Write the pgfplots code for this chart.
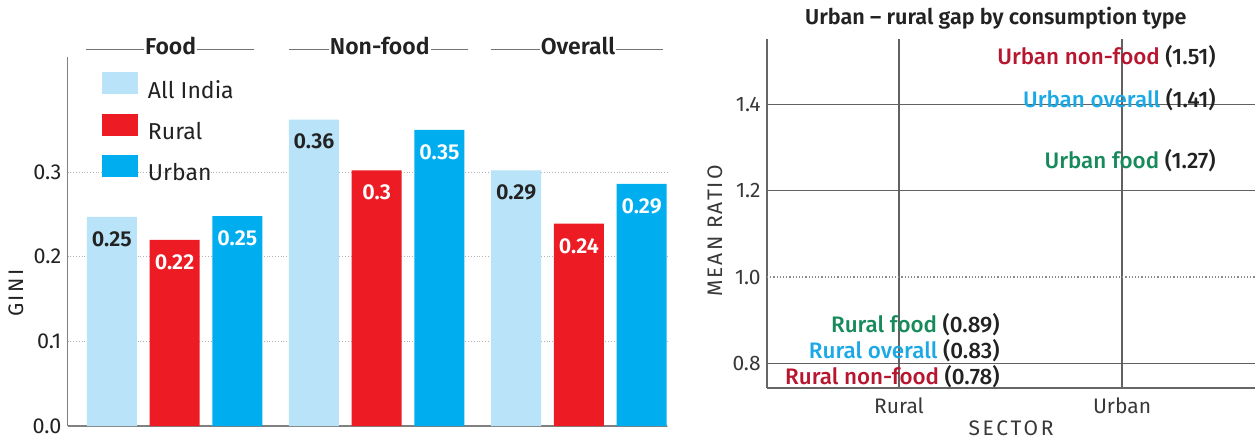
\documentclass[border=0pt]{standalone}
\usepackage{fontspec}
\setmainfont{Fira Sans}
\IfFontExistsTF{Fira Sans SemiBold}{\newfontfamily\semib{Fira Sans SemiBold}}{\newcommand\semib{\bfseries}}
\IfFontExistsTF{Fira Sans Medium}{\newfontfamily\medf{Fira Sans Medium}}{\newcommand\medf{\bfseries}}
\usepackage{pgfplots}
\usepackage{pgfplotstable}
\pgfplotsset{compat=1.18}
\definecolor{aiblue}{HTML}{B9E3F8}
\definecolor{rured}{HTML}{ED1C24}
\definecolor{urblue}{HTML}{00AEEF}
\definecolor{txtred}{HTML}{B8152E}
\definecolor{txtgreen}{HTML}{178A5C}
\definecolor{txtblue}{HTML}{1BA9E6}
\definecolor{ink}{HTML}{222222}
\definecolor{axgray}{HTML}{808080}

\pgfplotstableread{
x y lab
0     0.247 0.25
3.222 0.362 0.36
6.444 0.302 0.29
}\aitab
\pgfplotstableread{
x y lab
1     0.220 0.22
4.222 0.302 0.3
7.444 0.239 0.24
}\rutab
\pgfplotstableread{
x y lab
2     0.248 0.25
5.222 0.350 0.35
8.444 0.286 0.29
}\urtab

\begin{document}
\begin{tikzpicture}
\path[use as bounding box] (0,0) rectangle (629pt,220.5pt);
% ---------------- left chart ----------------
\begin{axis}[
  at={(33.85pt,7.5pt)}, anchor=south west, scale only axis,
  width=299.65pt, height=184.5pt,
  xmin=-0.703, xmax=8.849, ymin=0, ymax=0.436,
  axis x line*=bottom, axis y line*=left,
  axis line style={draw=axgray, line width=0.75pt, -},
  xtick=\empty, ytick={0,0.1,0.2,0.3}, yticklabels={0.0,0.1,0.2,0.3},
  major tick length=0pt,
  /pgf/number format/assume math mode=true,
  yticklabel style={font=\fontsize{10.8}{12}\selectfont, text=ink, inner sep=0pt, xshift=-3pt},
  ymajorgrids, major grid style={densely dotted, black!30, line width=0.5pt},
  ybar, bar width=25pt, bar shift=0pt,
  clip=false,
  point meta=explicit symbolic,
  nodes near coords,
  every node near coord/.append style={anchor=north, yshift=-7pt, inner sep=0pt, font=\semib\fontsize{10.8}{12}\selectfont},
  legend image code/.code={\draw[#1,draw=none] (0pt,-1.5pt) rectangle (18pt,9.5pt);},
  legend cell align=left,
  legend style={at={(rel axis cs:0.0572,0.959)}, anchor=north west, draw=none, fill=none,
    inner sep=0pt, outer sep=0pt, row sep=6pt,
    font=\fontsize{11.5}{13}\selectfont, text=ink,
    nodes={inner sep=0pt},
    /tikz/every odd column/.append style={column sep=5pt}},
]
\addplot[fill=aiblue, draw=none, every node near coord/.append style={text=ink}] table[x=x, y=y, meta=lab] {\aitab};
\addplot[fill=rured, draw=none, every node near coord/.append style={text=white}] table[x=x, y=y, meta=lab] {\rutab};
\addplot[fill=urblue, draw=none, every node near coord/.append style={text=white}] table[x=x, y=y, meta=lab] {\urtab};
\legend{All India, Rural, Urban}
% group headers
\draw[black!55, line width=0.55pt] (axis cs:-0.413,0.4444) -- (axis cs:2.27,0.4444);
\draw[black!55, line width=0.55pt] (axis cs:2.825,0.4444) -- (axis cs:5.683,0.4444);
\draw[black!55, line width=0.55pt] (axis cs:6.048,0.4444) -- (axis cs:8.778,0.4444);
\node[fill=white, inner xsep=0.6pt, inner ysep=0pt, anchor=base, text=ink, font=\semib\fontsize{11.5}{13}\selectfont] at (axis cs:0.937,0.4385) {Food};
\node[fill=white, inner xsep=0.6pt, inner ysep=0pt, anchor=base, text=ink, font=\semib\fontsize{11.5}{13}\selectfont] at (axis cs:4.27,0.4385) {Non-food};
\node[fill=white, inner xsep=0.6pt, inner ysep=0pt, anchor=base, text=ink, font=\semib\fontsize{11.5}{13}\selectfont] at (axis cs:7.43,0.4385) {Overall};
\node[rotate=90, text=ink, font=\fontsize{10.5}{12}\selectfont\addfontfeatures{LetterSpace=12}] at (rel axis cs:-0.0863,0.36) {GINI};
\end{axis}
% ---------------- right chart ----------------
\begin{axis}[
  at={(383.5pt,26.5pt)}, anchor=south west, scale only axis,
  width=244pt, height=174.5pt,
  xmin=-0.592, xmax=1.596, ymin=0.743, ymax=1.551,
  axis x line*=bottom, axis y line*=left,
  axis line style={draw=black!60, line width=0.6pt, -},
  xtick={0,1}, xticklabels={Rural,Urban},
  ytick={0.8,1.2,1.4}, extra y ticks={1.0},
  extra y tick style={ymajorgrids=true, major grid style={densely dotted, black!45, line width=0.6pt}},
  major tick length=0pt,
  xmajorgrids, ymajorgrids, major grid style={draw=black!62, line width=0.6pt},
  /pgf/number format/assume math mode=true,
  yticklabel={\pgfmathprintnumber[fixed,fixed zerofill,precision=1]{\tick}},
  yticklabel style={font=\fontsize{10.5}{12}\selectfont, text=ink!90, inner sep=0pt, xshift=-3pt},
  xticklabel style={font=\fontsize{10.5}{12}\selectfont, text=ink!90, inner sep=0pt, yshift=-4.5pt},
  clip=false,
]
\addplot[draw=none, mark=none, nodes near coords={\textcolor{txtred}{Urban non-food} (1.51)},
  every node near coord/.append style={anchor=east, xshift=47pt, inner sep=0pt, text=ink, font=\medf\fontsize{11.2}{13}\selectfont}] coordinates {(1,1.51)};
\addplot[draw=none, mark=none, nodes near coords={\textcolor{txtblue}{Urban overall} (1.41)},
  every node near coord/.append style={anchor=east, xshift=47pt, inner sep=0pt, text=ink, font=\medf\fontsize{11.2}{13}\selectfont}] coordinates {(1,1.41)};
\addplot[draw=none, mark=none, nodes near coords={\textcolor{txtgreen}{Urban food} (1.27)},
  every node near coord/.append style={anchor=east, xshift=47pt, inner sep=0pt, text=ink, font=\medf\fontsize{11.2}{13}\selectfont}] coordinates {(1,1.27)};
\addplot[draw=none, mark=none, nodes near coords={\textcolor{txtgreen}{Rural food} (0.89)},
  every node near coord/.append style={anchor=east, xshift=50.5pt, inner sep=0pt, text=ink, font=\medf\fontsize{11.2}{13}\selectfont}] coordinates {(0,0.89)};
\addplot[draw=none, mark=none, nodes near coords={\textcolor{txtblue}{Rural overall} (0.83)},
  every node near coord/.append style={anchor=east, xshift=50.5pt, inner sep=0pt, text=ink, font=\medf\fontsize{11.2}{13}\selectfont}] coordinates {(0,0.83)};
\addplot[draw=none, mark=none, nodes near coords={\textcolor{txtred}{Rural non-food} (0.78)},
  every node near coord/.append style={anchor=east, xshift=50.5pt, inner sep=0pt, text=ink, font=\medf\fontsize{11.2}{13}\selectfont}] coordinates {(0,0.77)};
\node[text=ink, font=\semib\fontsize{10.8}{13}\selectfont] at (rel axis cs:0.469,1.06) {Urban – rural gap by consumption type};
\node[rotate=90, text=ink!90, font=\fontsize{10.5}{12}\selectfont\addfontfeatures{LetterSpace=10}] at (rel axis cs:-0.107,0.45) {MEAN RATIO};
\node[text=ink!90, font=\fontsize{10.5}{12}\selectfont\addfontfeatures{LetterSpace=13}] at (rel axis cs:0.5,-0.115) {SECTOR};
\end{axis}
\end{tikzpicture}
\end{document}
